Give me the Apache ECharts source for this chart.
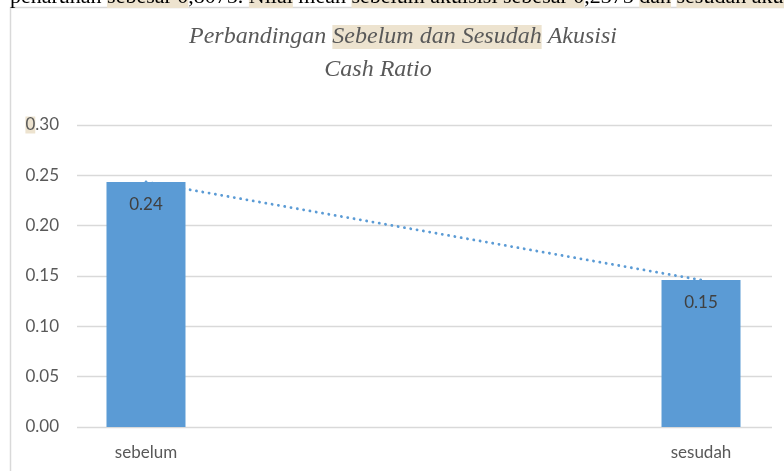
<!DOCTYPE html>
<html>
<head>
<meta charset="utf-8">
<script src="https://cdn.jsdelivr.net/npm/echarts@6/dist/echarts.min.js"></script>
<style>
  html, body { margin: 0; padding: 0; background: #fff; }
  #chart { width: 784px; height: 471px; }
</style>
</head>
<body>
<div id="chart"></div>
<script>
// data
var categories = ['sebelum', 'sesudah'];
var cashRatio = [0.2434, 0.146];
var yMax = 0.3;
var yStep = 0.05;
var titleLine1 = ['Perbandingan ', 'Sebelum dan Sesudah', ' Akusisi'];
var titleLine2 = 'Cash Ratio';
// potongan teks dokumen di atas grafik (terpotong)
var docText = [
  ['n', 'penaruhan '], ['h', 'sebesar 0'], ['n', ',8075. '], ['h', 'Nilai'],
  ['n', ' mean '], ['h', 'sebelum akuisisi sebesar 0'], ['n', ',2375 '],
  ['h', 'dan'], ['n', ' '], ['h', 'sesudah akuisisi']
];

var myChart = echarts.init(document.getElementById('chart'));

var hl = '#ede3cf';   // warna stabilo
var blue = '#5b9bd5';
var grey = '#595959';
var font = 'Lato, "Open Sans", sans-serif';

// posisi index kategori -> sumbu nilai
var points = cashRatio.map(function (v, i) { return [i, v]; });

var docRich = docText.map(function (s) { return '{' + s[0] + '|' + s[1] + '}'; }).join('');

var titleText = { fontSize: 24, fontStyle: 'italic', fontWeight: 'normal', fontFamily: 'cursive', color: grey, lineHeight: 32 };

var option = {
  animation: false,
  backgroundColor: '#fff',
  title: [
    {
      text: '{n|' + titleLine1[0] + '}{h|' + titleLine1[1] + '}{n|' + titleLine1[2] + '}',
      left: 403, top: 21, textAlign: 'center', padding: 0,
      textStyle: {
        fontWeight: 'normal',
        rich: {
          n: titleText,
          h: Object.assign({ backgroundColor: hl }, titleText)
        }
      }
    },
    {
      text: titleLine2,
      left: 378, top: 54, textAlign: 'center', padding: 0,
      textStyle: titleText
    }
  ],
  graphic: [
    {
      type: 'rect', z: -1, silent: true,
      shape: { x: 10.5, y: 7.5, width: 800, height: 500 },
      style: { fill: 'none', stroke: '#d9d9d9', lineWidth: 1.5 }
    },
    {
      type: 'text', z: 10, silent: true,
      x: 10, y: -3,
      style: {
        text: docRich,
        verticalAlign: 'middle',
        rich: {
          n: { fontSize: 22, fontFamily: '"Liberation Serif", serif', fill: '#000', lineHeight: 22 },
          h: { fontSize: 22, fontFamily: '"Liberation Serif", serif', fill: '#000', lineHeight: 22, backgroundColor: hl }
        }
      }
    }
  ],
  grid: { left: 77, right: 12, top: 125, bottom: 44 },
  xAxis: {
    type: 'value',
    min: -0.1243,
    max: 1.1279,
    axisLine: { show: false },
    axisTick: { show: false },
    splitLine: { show: false },
    axisLabel: {
      customValues: [0, 1],
      margin: 17,
      color: grey,
      fontSize: 17,
      fontFamily: font,
      formatter: function (v) { return categories[Math.round(v)]; }
    }
  },
  yAxis: {
    type: 'value',
    min: 0,
    max: yMax,
    interval: yStep,
    axisLine: { show: false },
    axisTick: { show: false },
    splitLine: { lineStyle: { color: '#d9d9d9', width: 1.3 } },
    axisLabel: {
      margin: 18,
      color: grey,
      fontSize: 17,
      fontFamily: font,
      formatter: function (v) {
        var s = v.toFixed(2);
        return v === yMax ? '{h|' + s.charAt(0) + '}' + s.slice(1) : s;
      },
      rich: {
        h: { backgroundColor: hl, color: grey, fontSize: 17, fontFamily: font }
      }
    }
  },
  series: [
    {
      name: 'Cash Ratio',
      type: 'bar',
      barWidth: 79,
      data: points,
      itemStyle: { color: blue },
      label: {
        show: true,
        position: 'insideTop',
        distance: 14,
        color: '#404040',
        fontSize: 17,
        fontFamily: font,
        formatter: function (p) { return p.value[1].toFixed(2); }
      }
    },
    {
      name: 'trend',
      type: 'line',
      data: points,
      symbol: 'none',
      z: 5,
      lineStyle: { color: blue, width: 2.8, type: [0.1, 6.3], cap: 'round' }
    }
  ]
};

myChart.setOption(option);
</script>
</body>
</html>
